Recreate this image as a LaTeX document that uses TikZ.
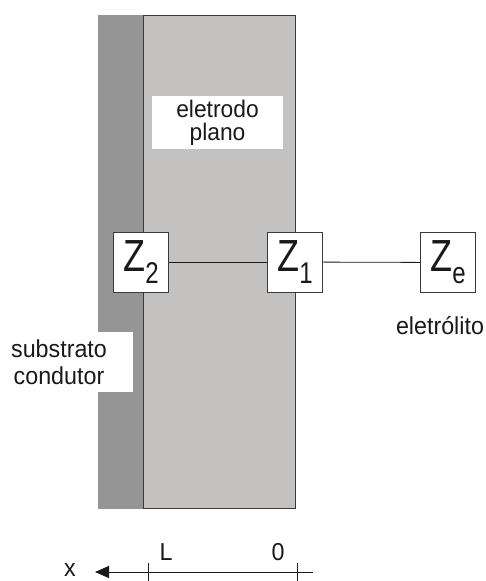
\documentclass[tikz,border=0pt]{standalone}
\usepackage{fontspec}
\setmainfont[FakeStretch=0.95]{Liberation Sans}
\newfontfamily\zfont[FakeStretch=0.8]{Liberation Sans}
\usetikzlibrary{arrows.meta}
\definecolor{substrateGray}{HTML}{959595}
\definecolor{electrodeGray}{HTML}{C3C2C0}
\definecolor{edgeGray}{HTML}{3A3A3A}
\newcommand{\zimp}[1]{{\zfont\fontsize{45}{45}\selectfont Z}\raisebox{-12pt}{\zfont\fontsize{30}{30}\selectfont #1}}
\begin{document}
\begin{tikzpicture}[x=1pt,y=-1pt,
  every node/.style={font=\fontsize{24.5}{27}\selectfont, text=black!90},
  zbox/.style={draw=edgeGray, fill=white, line width=0.9pt, minimum width=55pt,
    minimum height=60pt, inner sep=0pt},
  tagbox/.style={fill=white, inner sep=0pt, align=center},
  wire/.style={draw=black!90, line width=0.8pt},
  axisline/.style={draw=black!90, line width=0.9pt}]
\useasboundingbox (0,0) rectangle (486,581);

% conducting substrate and planar electrode
\fill[substrateGray] (98,15) rectangle (143,509);
\draw[fill=electrodeGray, draw=edgeGray, line width=1pt] (143,15) rectangle (295,508);

% labels on white backgrounds
\node[tagbox, minimum width=131pt, minimum height=53pt,
  font=\fontsize{24}{23}\selectfont] (eletrodo) at (217.5,122.5)
  {eletrodo\\plano};
\fill[white] (0,332) rectangle (133,392);
\node[align=center] (substrato) at (59,362) {substrato\\condutor};

% impedance elements
\node[zbox] (z2) at (141,262) {\zimp{2}};
\node[zbox] (z1) at (295,262) {\zimp{1}};
\node[zbox] (ze) at (448,262.5) {\zimp{e}};
\node (eletrolito) at (440,326) {eletrólito};

\draw[wire] (z2) -- (z1);
\draw[wire] (z1) -- (ze);

% position axis
\coordinate (axstart) at (313,572);
\coordinate (axend) at (95,572);
\coordinate (tickLa) at (148,563);
\coordinate (tickLb) at (148,581);
\coordinate (tickOa) at (297,563);
\coordinate (tickOb) at (297,581);
\draw[axisline, -{Triangle[length=14pt,width=12pt]}] (axstart) -- (axend);
\draw[axisline] (tickLa) -- (tickLb);
\draw[axisline] (tickOa) -- (tickOb);
\node (lblL) at (166,552) {L};
\node (lbl0) at (278,552) {0};
\node[inner sep=0pt] (lblx) at (70,570) {x};
\end{tikzpicture}
\end{document}
